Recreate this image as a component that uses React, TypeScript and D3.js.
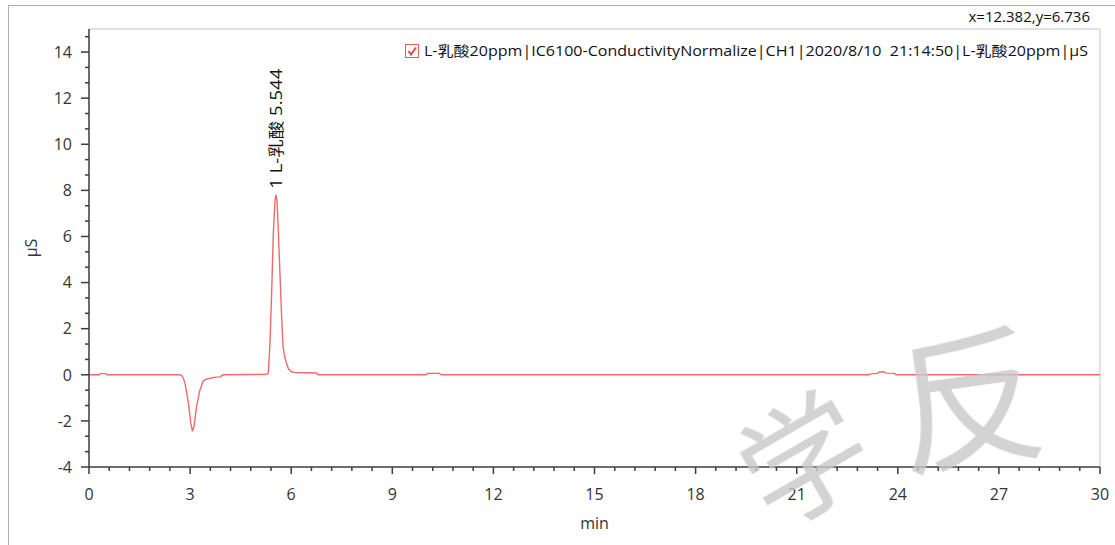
import * as d3 from "d3";

// chromatogram trace
const rt = [
  0, 0.3, 0.33, 0.5, 0.53, 2.7, 2.75, 2.8, 2.85, 2.95, 3.02, 3.07, 3.12, 3.19,
  3.29, 3.39, 3.5, 3.6, 3.75, 3.9, 3.95, 4.0, 5.28, 5.32, 5.37, 5.42, 5.47,
  5.52, 5.55, 5.58, 5.62, 5.67, 5.72, 5.76, 5.81, 5.86, 5.92, 6.01, 6.1, 6.75,
  6.8, 10.0, 10.05, 10.4, 10.45, 23.15, 23.2, 23.4, 23.45, 23.6, 23.65, 23.9,
  23.95, 30,
];
const signal = [
  0, 0, 0.05, 0.05, 0, 0, -0.03, -0.15, -0.37, -1.23, -2.1, -2.45, -2.2, -1.39,
  -0.67, -0.26, -0.18, -0.15, -0.1, -0.09, -0.02, 0, 0.02, 0.07, 1.38, 3.55,
  6.16, 7.6, 7.81, 7.5, 6.16, 4.25, 2.38, 1.22, 0.75, 0.5, 0.25, 0.13, 0.1,
  0.08, 0, 0, 0.06, 0.06, 0, 0, 0.04, 0.06, 0.12, 0.12, 0.07, 0.06, 0, 0,
];

const xTicks = [0, 3, 6, 9, 12, 15, 18, 21, 24, 27, 30];
const yTicks = [-4, -2, 0, 2, 4, 6, 8, 10, 12, 14];

const peakLabel = "1 L-乳酸 5.544";
const peakTime = 5.544;
const peakHeight = 7.81;
const legendText =
  "L-乳酸20ppm|IC6100-ConductivityNormalize|CH1|2020/8/10  21:14:50|L-乳酸20ppm|μS";
const cursorText = "x=12.382,y=6.736";

const W = 1115;
const H = 545;
const margin = { left: 89, right: 15, top: 29, bottom: 78 };
const font = "'Open Sans', 'Noto Sans CJK SC', sans-serif";

export default function App() {
  const x = d3
    .scaleLinear()
    .domain([0, 30])
    .range([margin.left, W - margin.right]);
  const y = d3
    .scaleLinear()
    .domain([-4, 15])
    .range([H - margin.bottom, margin.top]);

  const pts = rt.map((t, i) => [t, signal[i]] as [number, number]);
  const line = d3
    .line<[number, number]>()
    .x((d) => x(d[0]))
    .y((d) => y(d[1]));

  // minor ticks: 5 per 3 min, 3 per 2 μS
  const xMinor = d3.range(0, 30.001, 0.6).filter((v) => Math.abs(v / 3 - Math.round(v / 3)) > 0.01);
  const yMinor = d3.range(-4, 15.001, 2 / 3).filter((v) => Math.abs(v / 2 - Math.round(v / 2)) > 0.01);

  const x0 = x(0);
  const y0 = y(-4);
  const axisColor = "#3c3c3c";
  const labelColor = "#333";

  return (
    <svg width={W} height={H} style={{ position: "absolute", left: 0, top: 0, background: "#fff" }}>
      {/* outer frame */}
      <rect x={8.5} y={5.5} width={W} height={H} fill="none" stroke="#adaeba" strokeWidth={1} />

      {/* plot frame top/right */}
      <line x1={x0} x2={x(30)} y1={y(15)} y2={y(15)} stroke="#c4c4c4" />
      <line x1={x(30)} x2={x(30)} y1={y(15)} y2={y0} stroke="#c4c4c4" />

      {/* trace */}
      <path d={line(pts) || ""} fill="none" stroke="#f06a6a" strokeWidth={1.4} />

      {/* axes */}
      <line x1={x0} x2={x(30)} y1={y0} y2={y0} stroke={axisColor} strokeWidth={1.5} />
      <line x1={x0} x2={x0} y1={y(15)} y2={y0} stroke={axisColor} strokeWidth={1.5} />

      {xTicks.map((t) => (
        <g key={"xt" + t}>
          <line x1={x(t)} x2={x(t)} y1={y0} y2={y0 + 7} stroke={axisColor} strokeWidth={1.5} />
          <text x={x(t)} y={y0 + 33} textAnchor="middle" fontSize={16} fontFamily={font} fill={labelColor}>
            {t}
          </text>
        </g>
      ))}
      {xMinor.map((t) => (
        <line key={"xm" + t} x1={x(t)} x2={x(t)} y1={y0} y2={y0 + 4} stroke={axisColor} strokeWidth={1.5} />
      ))}

      {yTicks.map((v) => (
        <g key={"yt" + v}>
          <line x1={x0 - 8} x2={x0} y1={y(v)} y2={y(v)} stroke={axisColor} strokeWidth={1.5} />
          <text x={x0 - 17} y={y(v)} dy="0.36em" textAnchor="end" fontSize={16} fontFamily={font} fill={labelColor}>
            {v}
          </text>
        </g>
      ))}
      {yMinor.map((v) => (
        <line key={"ym" + v} x1={x0 - 4} x2={x0} y1={y(v)} y2={y(v)} stroke={axisColor} strokeWidth={1.5} />
      ))}

      {/* axis titles */}
      <text
        transform={`translate(37,${y(5.5)}) rotate(-90)`}
        textAnchor="middle"
        fontSize={16}
        fontFamily={font}
        fill={labelColor}
      >
        μS
      </text>
      <text x={x(15)} y={529} textAnchor="middle" fontSize={16} fontFamily={font} fill={labelColor}>
        min
      </text>

      {/* peak annotation */}
      <text
        transform={`translate(${x(peakTime)},${y(peakHeight) - 6}) rotate(-90)`}
        dominantBaseline="central"
        fontSize={16}
        fontFamily={font}
        fill="#111"
        textLength={120}
        lengthAdjust="spacingAndGlyphs"
      >
        {peakLabel}
      </text>

      {/* cursor readout */}
      <text x={1090} y={22} textAnchor="end" fontSize={15} fontFamily={font} fill="#111">
        {cursorText}
      </text>

      {/* legend */}
      <rect x={405.5} y={44.5} width={13} height={13} fill="#fff" stroke="#e06060" strokeWidth={1} />
      <path d="M408.5,51 L411,54.5 L416,47.5" fill="none" stroke="#e04848" strokeWidth={2} />
      <text
        x={424}
        y={56}
        fontSize={14}
        fontFamily={font}
        fill="#111"
        textLength={664}
        lengthAdjust="spacingAndGlyphs"
        style={{ whiteSpace: "pre" }}
      >
        {legendText}
      </text>

      {/* watermark */}
      <g fill="#c8c8c8" opacity={0.8} fontFamily="'Noto Sans CJK SC', sans-serif">
        <text
          transform="translate(968,390) rotate(-8)"
          textAnchor="middle"
          dominantBaseline="central"
          fontSize={150}
        >
          反
        </text>
        <text
          transform="translate(800,452) rotate(-30)"
          textAnchor="middle"
          dominantBaseline="central"
          fontSize={125}
        >
          学
        </text>
      </g>
    </svg>
  );
}
